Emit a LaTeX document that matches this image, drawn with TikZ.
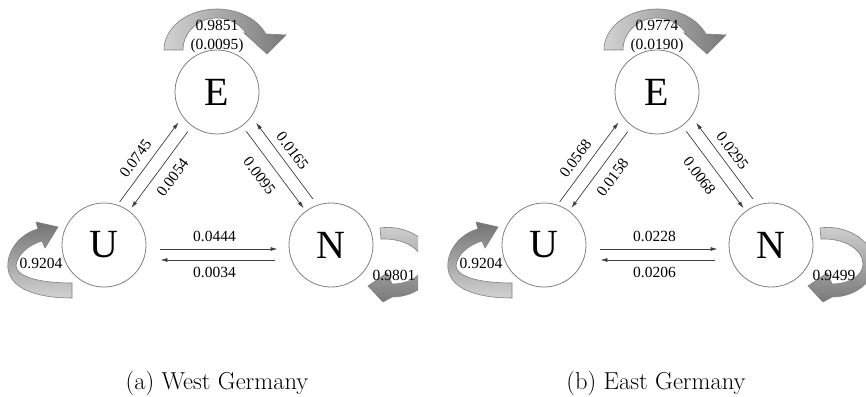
\documentclass[tikz,border=0pt]{standalone}
\usepackage{fontspec}
\newfontfamily\tnr{Liberation Serif}
\usetikzlibrary{calc,arrows.meta}
\tikzset{
  state/.style={circle, draw=gray, line width=0.8pt, fill=white, minimum size=84pt, inner sep=0pt, font=\tnr\fontsize{40}{40}\selectfont},
  conn/.style={draw=black!75, line width=0.7pt, -{Latex[length=7pt,width=4pt]}},
  lab/.style={font=\tnr\fontsize{15.5}{19}\selectfont, inner sep=0pt, align=center},
  loopband/.style={draw=gray, line width=0.6pt},
  captext/.style={font=\fontsize{24.5}{29}\selectfont, anchor=base}
}
\newcommand\drawpanel[2]{%
  % self loops (behind the states)
  \path[loopband, left color=gray!35, right color=gray!95!black]
    plot[domain=180:337, samples=40, variable=\t] ({217+53*cos(\t)},{50+41*sin(\t)})
    -- (286,35) -- (267,54) -- (244,33)
    -- plot[domain=0:150, samples=40, variable=\t] ({217+34*cos(330-\t)},{50+32*sin(330-\t)})
    -- cycle;
  \path[loopband, top color=gray!90!black, bottom color=gray!35]
    (72,298) .. controls (30,298) and (5,285) .. (8,262)
    .. controls (10,245) and (25,232) .. (38,229)
    -- (36,222) -- (58,227) -- (45,248) -- (42,241)
    .. controls (28,245) and (17,255) .. (16,266)
    .. controls (17,277) and (40,283) .. (72,283) -- cycle;
  \begin{scope}
    \clip (0,0) rectangle (#2,396);
    \path[loopband, top color=gray!35, bottom color=gray!95!black]
      (380,228) .. controls (405,224) and (433,240) .. (434,262)
      .. controls (435,282) and (415,297) .. (392,297)
      -- (383,302) -- (368,286) -- (387,273) -- (392,284)
      .. controls (410,284) and (423,275) .. (423,264)
      .. controls (423,250) and (405,238) .. (381,239) -- cycle;
  \end{scope}
  % states
  \node[state] (E#1) at (217,92) {E};
  \node[state] (U#1) at (104,245) {U};
  \node[state] (N#1) at (331,245) {N};
  % connectors
  \draw[conn] ($(U#1)!44pt!(E#1)!13pt!90:(E#1)$) -- ($(U#1)!143pt!(E#1)!13pt!90:(E#1)$);
  \draw[conn] ($(U#1)!141pt!(E#1)$) -- ($(U#1)!46pt!(E#1)$);
  \draw[conn] ($(E#1)!143pt!(N#1)!13pt!90:(N#1)$) -- ($(E#1)!48pt!(N#1)!13pt!90:(N#1)$);
  \draw[conn] ($(E#1)!49pt!(N#1)$) -- ($(E#1)!145pt!(N#1)$);
  \draw[conn] ($(U#1.east)+(14,4)$) -- ($(N#1.west)+(-11,4)$);
  \draw[conn] ($(N#1.west)+(-14,15)$) -- ($(U#1.east)+(14,15)$);
  % labels
  \node[lab, rotate=53.5] (lue#1) at (135.5,158.5) {\vUE};
  \node[lab, rotate=53.5] (leu#1) at (172.5,177.5) {\vEU};
  \node[lab, rotate=-53.3] (lne#1) at (292.5,151) {\vNE};
  \node[lab, rotate=-53.3] (len#1) at (259.5,176) {\vEN};
  \node[lab] (lun#1) at (214.5,236) {\vUN};
  \node[lab] (lnu#1) at (214.5,272) {\vNU};
  \node[lab] (lee#1) at (217,36.5) {\vEE};
  \node[lab] (luu#1) at (41,263) {\vUU};
  \node[lab] (lnn#1) at (394,275) {\vNN};
}
\begin{document}
\begin{tikzpicture}[x=1pt,y=-1pt]
  \useasboundingbox (0,0) rectangle (866,396);
  \fill[white] (0,0) rectangle (866,396);
  \begin{scope}
    \def\vUE{0.0745}\def\vEU{0.0054}\def\vNE{0.0165}\def\vEN{0.0095}
    \def\vUN{0.0444}\def\vNU{0.0034}\def\vEE{0.9851\\(0.0095)}
    \def\vUU{0.9204}\def\vNN{0.9801}
    \drawpanel{a}{418}
  \end{scope}
  \begin{scope}[xshift=440pt]
    \def\vUE{0.0568}\def\vEU{0.0158}\def\vNE{0.0295}\def\vEN{0.0068}
    \def\vUN{0.0228}\def\vNU{0.0206}\def\vEE{0.9774\\(0.0190)}
    \def\vUU{0.9204}\def\vNN{0.9499}
    \drawpanel{b}{426}
  \end{scope}
  \node[captext] (capa) at (217,389) {(a) West Germany};
  \node[captext] (capb) at (656,389) {(b) East Germany};
\end{tikzpicture}
\end{document}
